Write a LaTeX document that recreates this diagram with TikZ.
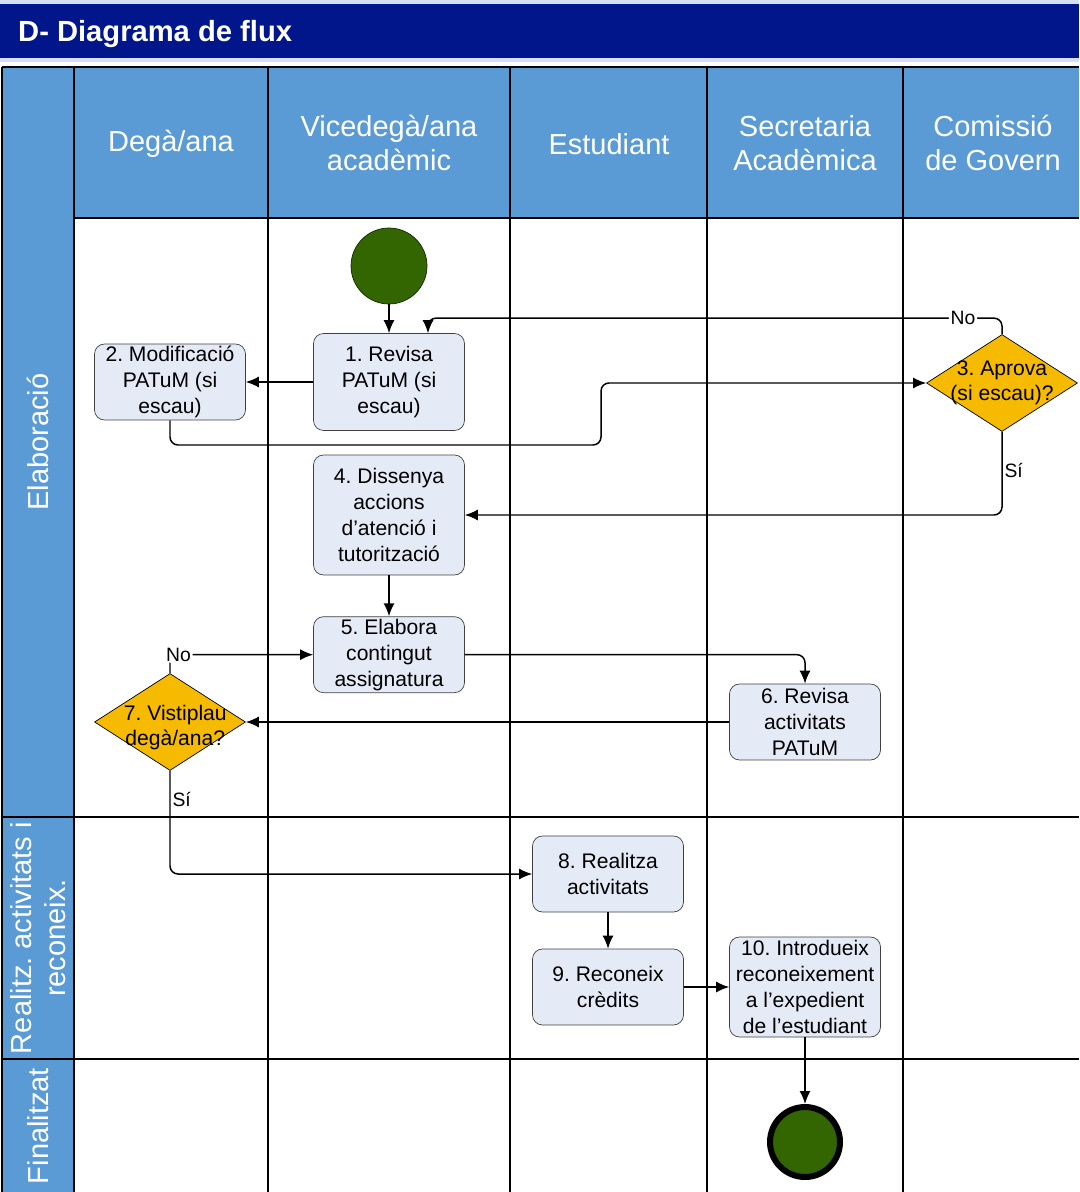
\documentclass[tikz,border=0pt]{standalone}
\usepackage{fontspec}
\setmainfont{Liberation Sans}
\usepackage{tikz}
\usetikzlibrary{%
  shapes.geometric, arrows.meta, positioning
}
\usepackage{xcolor}
\frenchspacing
\definecolor{titlenavy}{RGB}{0,22,138}
\definecolor{titlestrip}{RGB}{214,224,242}
\definecolor{laneblue}{RGB}{91,155,213}
\definecolor{taskfill}{RGB}{228,234,246}
\definecolor{gatefill}{RGB}{246,187,0}
\definecolor{eventgreen}{RGB}{51,102,0}
\tikzstyle{tnode} = [%
  rectangle,
  rounded corners=0.2cm,
  draw=black!75,
  fill=taskfill,
  minimum width=3.02cm,
  minimum height=1.52cm,
  align=center,
  inner xsep=1pt,
  inner ysep=0.5pt,
  font=\fontsize{12}{14.8}\selectfont
]
\tikzstyle{gnode} = [%
  diamond,
  draw=black,
  fill=gatefill,
  minimum width=3.02cm,
  minimum height=1.94cm,
  inner sep=0pt
]

\begin{document}
\begin{tikzpicture}[%
  x=0.02cm, y=-0.02cm,
  >={Latex[length=0.26cm,width=0.22cm]},
  every node/.style={%
    text centered,
    align=center
  },
  laneline/.style={draw=black,line width=1.1pt},
  flow/.style={->,line width=0.85pt,rounded corners=0.16cm},
  lanehead/.style={text=white,font=\fontsize{16.5}{19.3}\selectfont},
  gatetext/.style={font=\fontsize{12}{14.4}\selectfont},
  edgelbl/.style={font=\fontsize{11}{13}\selectfont,inner sep=1pt}
]
  \useasboundingbox (0,0) rectangle (1079,1192);

  % Title bar
  \fill[titlestrip] (0,0) rectangle (1079,62);
  \fill[titlenavy] (0,4) rectangle (1079,58);
  \node[anchor=west,text=white,font=\fontsize{16.6}{20}\selectfont\bfseries] (title) at (12,34) {D- Diagrama de flux};

  % Lanes
  \fill[laneblue] (2,67) rectangle (74,1192);
  \fill[laneblue] (74,67) rectangle (1079,218);
  \foreach \x in {2,74,268,510,707,903}
    \draw[laneline] (\x,67) -- (\x,1192);
  \draw[laneline] (2,67) -- (1079,67);
  \draw[laneline] (74,218) -- (1079,218);
  \draw[laneline] (2,817) -- (1079,817);
  \draw[laneline] (2,1059) -- (1079,1059);

  \node[lanehead] (H1) at (171,144) {Degà/ana};
  \node[lanehead] (H2) at (389,143) {Vicedegà/ana\\acadèmic};
  \node[lanehead] (H3) at (609,144) {Estudiant};
  \node[lanehead] (H4) at (805,143) {Secretaria\\Acadèmica};
  \node[lanehead] (H5) at (993,143) {Comissió\\de Govern};
  \node[lanehead,rotate=90] (R1) at (38,442) {Elaboració};
  \node[lanehead,rotate=90] (R2) at (38,938) {Realitz. activitats i\\reconeix.};
  \node[lanehead,rotate=90] (R3) at (38,1126) {Finalitzat};

  % Nodes
  \node[circle,fill=eventgreen,draw=black!60!eventgreen,minimum size=1.52cm,inner sep=0pt] (Start) at (389,266) {};
  \node[tnode,minimum height=1.94cm] (P1) at (389,382) {1. Revisa\\PATuM (si\\escau)};
  \node[tnode] (P2) at (170,382) {2. Modificació\\PATuM (si\\escau)};
  \node[gnode,label={[gatetext]center:3. Aprova\\(si escau)?}] (D3) at (1002,383) {};
  \node[tnode,minimum height=2.4cm] (P4) at (389,515) {4. Dissenya\\accions\\d’atenció i\\tutorització};
  \node[tnode,below=0.82cm of P4] (P5) {5. Elabora\\contingut\\assignatura};
  \node[tnode] (P6) at (805,722) {6. Revisa\\activitats\\PATuM};
  \node[gnode,label={[gatetext,xshift=3pt,yshift=-3pt]center:7. Vistiplau\\degà/ana?}] (D7) at (170,722) {};
  \node[tnode] (P8) at (608,874) {8. Realitza\\activitats};
  \node[tnode] (P9) at (608,987) {9. Reconeix\\crèdits};
  \node[tnode,minimum height=2.0cm] (P10) at (805,987) {10. Introdueix\\reconeixement\\a l’expedient\\de l’estudiant};
  \node[circle,fill=eventgreen,draw=black,line width=0.12cm,minimum size=1.4cm,inner sep=0pt] (End) at (805,1142) {};
  \coordinate (P1in) at ([xshift=0.78cm]P1.north);

  % Flow edges
  \draw[flow] (Start) -- (P1);
  \draw[flow] (P1) -- (P2);
  \draw[flow] (P2.south) |- (601,445) |- (D3.west);
  \draw[flow] (D3.north) -- ++(0,-16) -| node[edgelbl,fill=white,pos=0.034] {No} (P1in);
  \draw[flow] (D3.south) |- node[edgelbl,right,pos=0.23] {Sí} (P4.east);
  \draw[flow] (P4) -- (P5);
  \draw[flow] (P5.east) -| (P6.north);
  \draw[flow] (P6.west) -- (D7.east);
  \draw[flow] (D7.north) |- node[edgelbl,fill=white,pos=0.53] {No} (P5.west);
  \draw[flow] (D7.south) |- node[edgelbl,right,pos=0.14] {Sí} (P8.west);
  \draw[flow] (P8) -- (P9);
  \draw[flow] (P9.east) -- (P10.west);
  \draw[flow] (P10) -- (End);

\end{tikzpicture}
\end{document}
